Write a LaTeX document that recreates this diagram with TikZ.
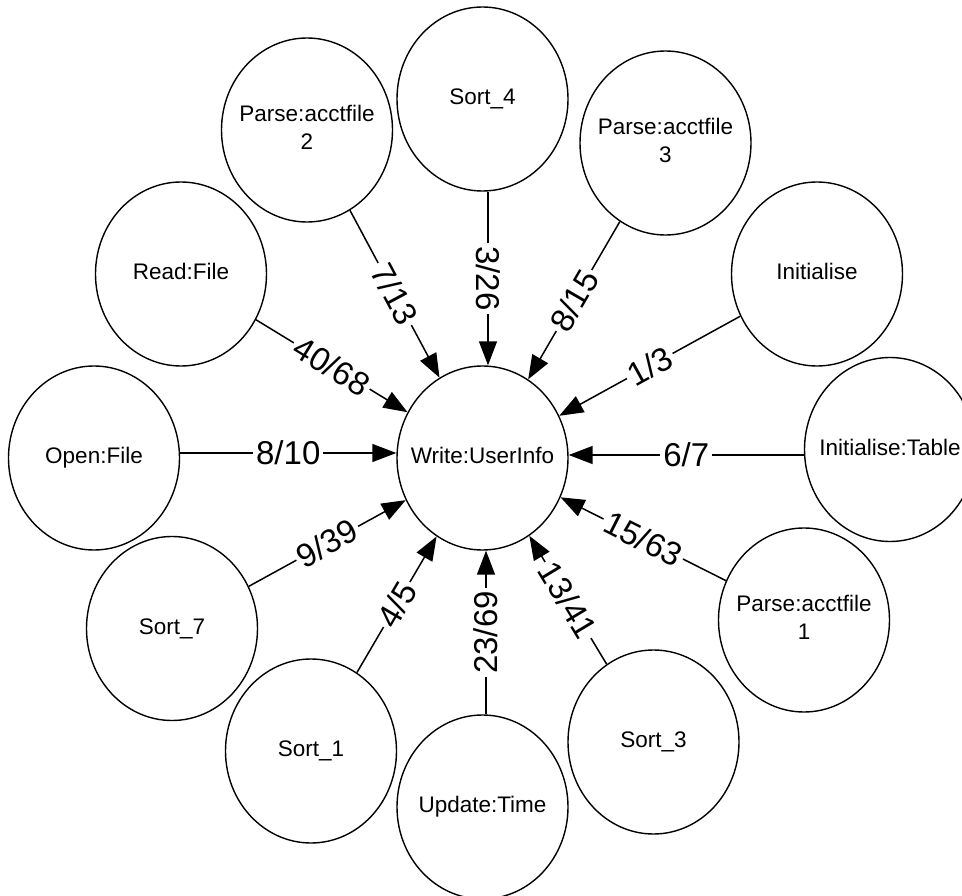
\documentclass[tikz,border=0pt]{standalone}
\usepackage{fontspec}
\setmainfont{Liberation Sans}
\usetikzlibrary{shapes.geometric,arrows.meta}
\begin{document}
\begin{tikzpicture}[x=1pt,y=-1pt,
  proc/.style={ellipse,draw,line width=1.4pt,minimum width=171pt,minimum height=184pt,inner sep=0pt,font=\fontsize{22.5}{28}\selectfont},
  flow/.style={line width=1.5pt,-{Triangle[length=24pt,width=18pt]}},
  lab/.style={sloped,fill=white,inner sep=3pt,font=\fontsize{33}{36}\selectfont}]
\useasboundingbox (0,0) rectangle (962,896);
\clip (0,0) rectangle (962,896);
\newcommand{\ctext}[1]{\makebox[0pt]{\begin{tabular}{@{}c@{}}#1\end{tabular}}}
% nodes
\node[proc] (W)  at (482.5,458) {\ctext{Write:UserInfo}};
\node[proc] (S4) at (482.5,99)  {\ctext{Sort\_4}};
\node[proc] (P2) at (307,130)   {\ctext{Parse:acctfile\\2}};
\node[proc] (P3) at (665.5,143) {\ctext{Parse:acctfile\\3}};
\node[proc] (RF) at (181,274)   {\ctext{Read:File}};
\node[proc] (IN) at (817,274)   {\ctext{Initialise}};
\node[proc] (OF) at (94,458)    {\ctext{Open:File}};
\node[proc] (IT) at (890,449.5) {\ctext{Initialise:Table}};
\node[proc] (S7) at (172,628.5) {\ctext{Sort\_7}};
\node[proc] (P1) at (804,620)   {\ctext{Parse:acctfile\\1}};
\node[proc] (S1) at (311,751)   {\ctext{Sort\_1}};
\node[proc] (S3) at (653.5,742) {\ctext{Sort\_3}};
\node[proc] (UT) at (482.5,807) {\ctext{Update:Time}};
% connectors
\draw[flow] ([xshift=5.5pt]S4.south) -- node[lab]{3/26} ([xshift=5.5pt]W.north);
\draw[flow] (P2) -- node[lab]{7/13} (W);
\draw[flow] (P3) -- node[lab]{8/15} (W);
\draw[flow] (RF) -- node[lab]{40/68} (W);
\draw[flow] (IN) -- node[lab]{1/3} (W);
\draw[flow] ([yshift=5pt]OF.east) -- node[lab]{8/10} ([yshift=5pt]W.west);
\draw[flow] ([yshift=-5.5pt]IT.west) -- node[lab]{6/7} ([yshift=3pt]W.east);
\draw[flow] (S7) -- node[lab]{9/39} (W);
\draw[flow] (P1) -- node[lab]{15/63} (W);
\draw[flow] (S1) -- node[lab]{4/5} (W);
\draw[flow] (S3) -- node[lab]{13/41} (W);
\draw[flow] ([xshift=3.5pt]UT.north) -- node[lab]{23/69} ([xshift=3.5pt]W.south);
\end{tikzpicture}
\end{document}
